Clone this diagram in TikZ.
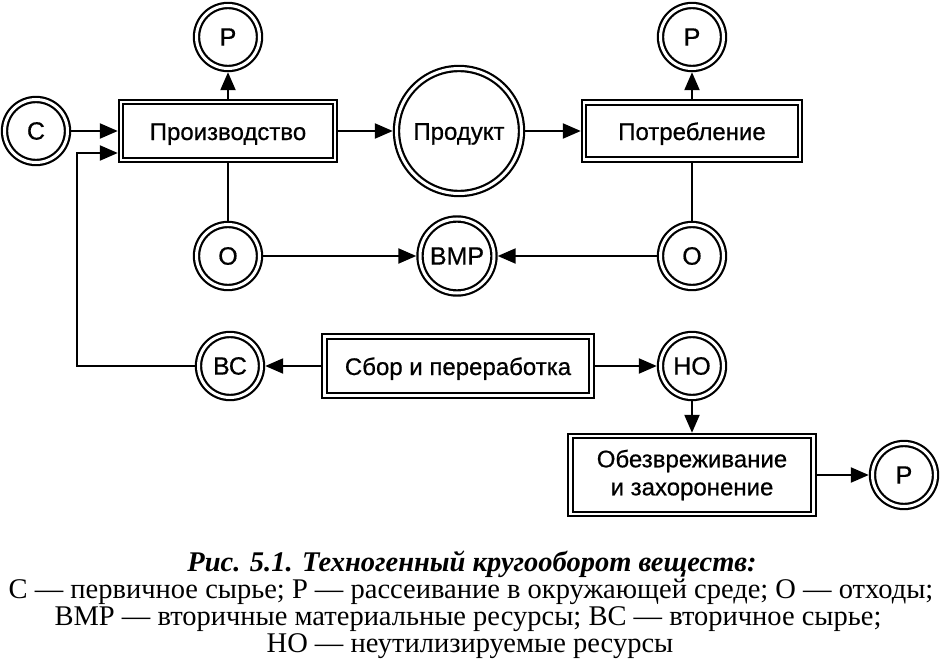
\documentclass[tikz,border=0pt]{standalone}
\usepackage{fontspec}
\setmainfont{Liberation Serif}
\newfontfamily\diagfont[FakeBold=0.6]{Liberation Sans}
\usetikzlibrary{arrows.meta,calc}
\begin{document}
\begin{tikzpicture}[x=1pt,y=-1pt,
  dcirc/.style={circle,draw,double,double distance=3.0pt,line width=2.2pt,inner sep=0pt,outer sep=3.7pt,font=\diagfont\fontsize{25}{27}\selectfont},
  dbox/.style={rectangle,draw,double,double distance=2.4pt,line width=2.0pt,inner sep=0pt,outer sep=3.2pt,font=\diagfont\fontsize{24}{28}\selectfont},
  onebox/.style={dbox,text height=21pt,text depth=3pt},
  twobox/.style={dbox,align=center},
  arr/.style={line width=2.2pt,-{Triangle[length=18pt,width=15pt]}},
  ln/.style={line width=2.2pt},
  captxt/.style={font=\fontsize{28.5}{30}\selectfont,anchor=base}
]
\useasboundingbox (0,0) rectangle (940,669);
% circles
\node[dcirc,minimum size=63pt] (C) at (36,131) {С};
\node[dcirc,minimum size=63pt] (P1) at (228,37) {Р};
\node[dcirc,minimum size=125pt,text height=20.5pt,text depth=3pt,font=\diagfont\fontsize{24}{26}\selectfont] (Prd) at (459,131) {Продукт};
\node[dcirc,minimum size=63pt] (P2) at (692,37) {Р};
\node[dcirc,minimum size=63pt] (O1) at (228,256) {О};
\node[dcirc,minimum size=74pt] (BMP) at (457,256) {ВМР};
\node[dcirc,minimum size=63pt] (O2) at (692,256) {О};
\node[dcirc,minimum size=63pt] (BC) at (230,366) {ВС};
\node[dcirc,minimum size=63pt] (HO) at (692,366) {НО};
\node[dcirc,minimum size=63pt] (P3) at (904,475) {Р};
% boxes
\node[onebox,minimum width=214pt,minimum height=58pt] (Prod) at (228,131) {Производство};
\node[onebox,minimum width=216pt,minimum height=57pt] (Potr) at (692,131) {Потребление};
\node[onebox,minimum width=267pt,minimum height=59pt] (Sbor) at (458,366) {Сбор и переработка};
\node[twobox,minimum width=243pt,minimum height=78pt] (Obez) at (692,475) {Обезвреживание\\и захоронение};
% connectors
\draw[arr] (C) -- (Prod);
\draw[arr] (Prod) -- (P1);
\draw[arr] (Prod) -- (Prd);
\draw[arr] (Prd) -- (Potr);
\draw[arr] (Potr) -- (P2);
\draw[ln] (Prod) -- (O1);
\draw[ln] (Potr) -- (O2);
\draw[arr] (O1) -- (BMP);
\draw[arr] (O2) -- (BMP);
\draw[arr] (Sbor) -- (BC);
\draw[arr] (Sbor) -- (HO);
\draw[arr] (HO) -- (Obez);
\draw[arr] (Obez) -- (P3);
\coordinate (fb) at (77,153);
\draw[arr] (BC.west) -| (fb) -- (fb -| Prod.west);
% caption
\node[captxt] (c1) at (472,571) {\bfseries\itshape Рис. 5.1. Техногенный кругооборот веществ:};
\node[captxt] (c2) at (471,598) {С — первичное сырье; Р — рассеивание в окружающей среде; О — отходы;};
\node[captxt] (c3) at (468,625) {ВМР — вторичные материальные ресурсы; ВС — вторичное сырье;};
\node[captxt] (c4) at (470,652) {НО — неутилизируемые ресурсы};
\end{tikzpicture}
\end{document}
